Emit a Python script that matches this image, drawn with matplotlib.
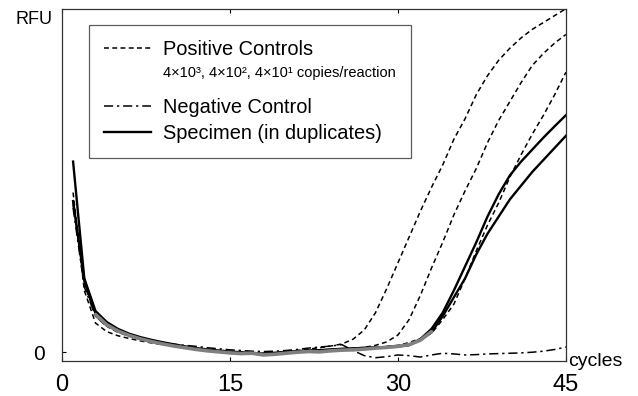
import numpy as np
import matplotlib
matplotlib.use("Agg")
import matplotlib.pyplot as plt
from matplotlib.lines import Line2D

plt.rcParams['font.family'] = ['Liberation Sans', 'DejaVu Sans']

# cycle numbers 1..45
cycles = np.arange(1, 46)

# positive controls (4x10^3, 4x10^2, 4x10^1 copies/reaction)
pos_1 = [46.5, 18, 8.5, 6, 4.8, 4, 3.3, 2.7, 2.2, 1.8, 1.3, 0.9, 0.6, 0.3, 0.1, 0.0, -0.2, -0.3, -0.1, 0.2, 0.5, 0.9, 1.3, 1.8,
         2.4, 3.8, 6.5, 11.5, 18.5, 26, 33.5, 41, 48, 54.5, 62, 68, 75, 80.5, 85, 88.5, 91.5, 94, 96, 98, 100]
pos_2 = [44, 20, 10.5, 7.6, 5.8, 4.7, 3.8, 3.0, 2.4, 1.8, 1.3, 0.9, 0.5, 0.2, 0.0, -0.3, -0.4, -0.6, -0.4, -0.1, 0.2, 0.4, 0.5, 0.8,
         0.9, 1.1, 1.4, 2, 3, 5, 9.5, 16.5, 24.5, 32, 40, 47, 53.5, 61, 67.5, 73, 78.5, 83.5, 87, 90, 92.5]
pos_3 = [43, 20.5, 11, 8, 6, 4.8, 3.9, 3.1, 2.5, 1.9, 1.4, 0.9, 0.5, 0.2, -0.1, -0.3, -0.5, -0.7, -0.5, -0.2, 0.1, 0.3, 0.4, 0.6,
         0.8, 1.0, 1.2, 1.4, 1.7, 2, 2.8, 4, 5.5, 9.5, 14, 21.5, 29.5, 37, 43.5, 51, 57.5, 63.5, 69, 75, 81.5]

# negative control
neg_ctrl = [42, 19, 10.5, 7.5, 6, 4.8, 4, 3.3, 2.7, 2.3, 2, 1.7, 1.3, 1, 0.7, 0.5, 0.3, 0.2, 0.3, 0.5, 0.8, 1.2, 1.5, 1.8,
            2.2, 0.5, -1, -1.6, -1.3, -0.8, -1, -1.4, -0.8, -0.3, -0.5, -0.8, -0.7, -0.5, -0.4, -0.3, -0.2, 0, 0.3, 0.8, 1.5]

# specimen, duplicates
spec_1 = [55.5, 21.5, 12, 8.8, 6.8, 5.4, 4.4, 3.6, 2.9, 2.3, 1.7, 1.2, 0.8, 0.5, 0.2, 0.0, -0.2, -0.4, -0.2, 0.1, 0.3, 0.5, 0.6, 0.8,
          1.0, 1.1, 1.3, 1.4, 1.5, 1.7, 2.1, 3.8, 6.8, 11.5, 18, 25, 32, 39.5, 46, 51.5, 55.5, 59, 62.5, 65.8, 69]
spec_2 = [44, 21, 11.5, 8.5, 6.5, 5.1, 4.1, 3.3, 2.6, 2.0, 1.5, 1.0, 0.6, 0.3, 0.0, -0.2, -0.4, -0.6, -0.4, -0.1, 0.2, 0.4, 0.5, 0.7,
          0.9, 1.0, 1.2, 1.3, 1.5, 1.7, 2.1, 3.5, 5.8, 10.5, 16, 21.5, 28.5, 34.5, 39.5, 44.5, 48.5, 52.5, 56, 59.5, 63]

# grey band where the traces overlap
band_cycles = np.arange(3, 34)
band = [11, 8, 6.2, 4.9, 3.9, 3.1, 2.4, 1.8, 1.3, 0.8, 0.4, 0.1, -0.2, -0.4, -0.3, -0.8, -0.6, -0.3, 0.0, 0.2, 0.1, 0.4,
        0.6, 0.7, 0.9, 1.2, 1.4, 1.7, 2.2, 3.5, 6]

x_ticks = [0, 15, 30, 45]
y_ticks = [0]

fig = plt.figure(figsize=(6.38, 3.96), dpi=100)
ax = fig.add_axes([0.097, 0.088, 0.79, 0.89])

pos_style = dict(color='black', lw=1.1, linestyle=(0, (3.2, 2.2)))
neg_style = dict(color='black', lw=1.1, linestyle=(0, (6, 2.5, 1.5, 2.5)))
ax.plot(cycles, pos_1, **pos_style)
ax.plot(cycles, pos_2, **pos_style)
ax.plot(cycles, pos_3, **pos_style)
ax.plot(cycles, neg_ctrl, **neg_style)
ax.plot(cycles, spec_1, color='black', lw=1.7)
ax.plot(cycles, spec_2, color='black', lw=1.7)
ax.plot(band_cycles, band, color='#808080', lw=2.6, solid_capstyle='round', zorder=3)

ax.set_xlim(0, 45)
ax.set_ylim(-2.6, 100)
ax.set_xticks(x_ticks)
ax.set_yticks(y_ticks)
ax.tick_params(direction='in', length=3, width=0.8, top=True, labelsize=17, pad=9)
ax.tick_params(axis='y', labelsize=15, pad=12)
for s in ax.spines.values():
    s.set_linewidth(0.9)
    s.set_color('#333333')

ax.set_xlabel('cycles', fontsize=14, ha='left', va='center')
ax.xaxis.set_label_coords(1.005, 0.0)
ax.set_ylabel('RFU', fontsize=13, rotation=0, ha='right', va='center')
ax.yaxis.set_label_coords(-0.018, 0.97)

handles = [Line2D([], [], **pos_style),
           Line2D([], [], color='none'),
           Line2D([], [], **neg_style),
           Line2D([], [], color='black', lw=1.7)]
# trailing newline leaves the extra gap under the copy-number line
labels = ['Positive Controls',
          '4×10³, 4×10², 4×10¹ copies/reaction\n',
          'Negative Control',
          'Specimen (in duplicates)']
leg = ax.legend(handles, labels, loc='upper left', bbox_to_anchor=(0.054, 0.955),
                borderaxespad=0, fontsize=14.4, frameon=True, fancybox=False, edgecolor='#333333',
                handlelength=2.35, handletextpad=0.6, labelspacing=0.36, borderpad=0.75)
leg.get_frame().set_linewidth(0.9)
sub = leg.get_texts()[1]
sub.set_fontsize(10.5)
sub.set_linespacing(0.75)

fig.savefig('out.png', dpi=100)
